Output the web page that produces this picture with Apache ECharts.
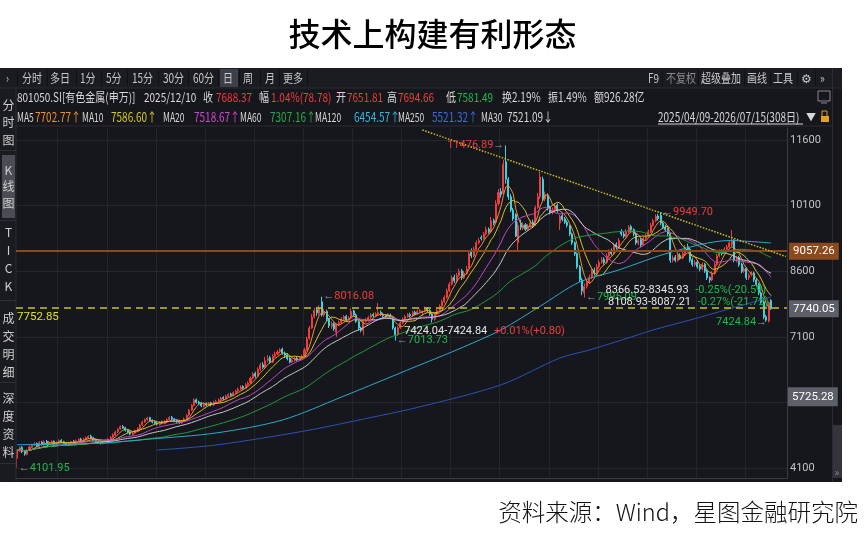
<!DOCTYPE html>
<html><head><meta charset="utf-8">
<script src="https://cdn.jsdelivr.net/npm/echarts/dist/echarts.min.js"></script>
<style>html,body{margin:0;padding:0;background:#fff}#c{width:865px;height:536px}</style>
</head><body><div id="c"></div>
<script>
const titleText = '技术上构建有利形态';
const sourceText = '资料来源：Wind，星图金融研究院';

// daily OHLC of 801050.SI, 308 sessions
const opens = [
4320,4490,4570,4480,4410,4510,4570,4630,4660,4590,
4690,4630,4710,4650,4680,4710,4640,4690,4730,4700,
4670,4630,4660,4710,4670,4730,4760,4720,4750,4780,
4830,4790,4740,4710,4690,4660,4700,4720,4750,4800,
4850,4930,4990,5050,5020,4970,4930,4870,4900,4950,
5000,5090,5150,5200,5250,5190,5160,5120,5090,5150,
5120,5160,5210,5260,5220,5190,5170,5130,5170,5220,
5310,5420,5530,5660,5610,5590,5510,5570,5530,5590,
5540,5600,5630,5650,5710,5680,5740,5790,5760,5820,
5860,5900,5960,5920,6000,6050,6150,6260,6200,6350,
6460,6400,6560,6620,6520,6650,6700,6760,6820,6720,
6690,6610,6520,6560,6610,6580,6620,6660,6800,7060,
7300,7560,7720,7640,7900,7600,7680,7500,7340,7400,
7200,7380,7420,7500,7570,7480,7530,7690,7600,7450,
7300,7240,7450,7480,7540,7610,7580,7620,7660,7620,
7590,7560,7600,7540,7300,7150,7300,7420,7500,7560,
7610,7580,7660,7620,7680,7651.81,7690,7750,7700,7620,
7500,7620,7700,7800,7900,8000,8150,8300,8460,8380,
8500,8610,8450,8550,8680,9050,8950,9100,9250,9370,
9350,9450,9560,9500,9760,9720,10150,10420,10380,11100,
10700,10300,10000,9900,9250,9700,9580,9660,9560,9620,
9720,9660,10060,10300,10700,10250,10340,10060,9950,10000,
10110,9700,9870,9800,9720,9640,9450,9250,9000,8700,
8400,8100,8250,8350,8450,8620,8550,8700,8810,8870,
8800,8950,9070,9000,9210,9150,9500,9450,9400,9500,
9620,9550,9450,9240,9320,9200,9350,9400,9500,9650,
9750,9860,9880,9700,9610,9560,9450,8850,8920,8850,
8960,8900,9000,9160,9100,8860,8750,8810,8710,8650,
8760,8600,8450,8400,8550,8750,8950,9060,9000,9100,
9150,9200,9300,8850,8910,8760,8600,8660,8450,8520,
8560,8400,8300,8100,7900,7560,7460,7930];
const closes = [
4500,4560,4470,4420,4500,4580,4620,4650,4600,4680,
4640,4700,4660,4690,4700,4650,4680,4720,4690,4660,
4640,4670,4700,4680,4720,4750,4730,4760,4790,4820,
4780,4730,4700,4690,4670,4700,4720,4750,4800,4860,
4920,4980,5040,5010,4960,4920,4880,4900,4950,5000,
5080,5150,5200,5240,5180,5150,5120,5100,5140,5130,
5160,5200,5250,5220,5180,5160,5140,5170,5220,5300,
5420,5530,5650,5600,5580,5520,5560,5540,5580,5540,
5600,5620,5650,5700,5680,5740,5780,5760,5820,5860,
5900,5950,5920,6000,6040,6150,6250,6200,6350,6450,
6400,6550,6600,6520,6650,6700,6750,6800,6720,6680,
6600,6520,6560,6600,6580,6620,6650,6800,7050,7300,
7550,7700,7650,7750,7600,7680,7500,7350,7400,7280,
7380,7420,7500,7560,7480,7530,7680,7600,7450,7300,
7250,7450,7480,7540,7600,7580,7620,7650,7620,7580,
7560,7600,7540,7300,7150,7300,7420,7500,7560,7600,
7580,7650,7620,7680,7700,7688.37,7740,7700,7620,7500,
7620,7700,7800,7900,8000,8150,8300,8450,8380,8500,
8600,8450,8550,8650,9000,8950,9100,9250,9300,9350,
9450,9550,9500,9750,9700,10150,10400,10350,11050,10700,
10300,10000,9800,9400,9650,9600,9650,9560,9620,9700,
9650,10050,10300,10750,10250,10350,10050,9950,10000,10100,
9980,9850,9780,9720,9650,9450,9250,9000,8700,8400,
8150,8250,8350,8450,8600,8550,8700,8800,8850,8800,
8950,9050,9000,9200,9150,9300,9450,9400,9500,9600,
9550,9450,9250,9300,9200,9350,9400,9500,9650,9750,
9850,9800,9700,9600,9550,9450,8850,8900,8850,8950,
8900,9000,9150,9100,8850,8750,8800,8700,8650,8750,
8600,8450,8400,8550,8750,8950,9050,9000,9100,9150,
9250,9280,8850,8900,8750,8600,8650,8450,8500,8550,
8400,8300,8100,7900,7550,7480,7880,7740.05];
const highs = [
4520,4590,4600,4500,4530,4610,4650,4690,4680,4710,
4720,4730,4740,4720,4730,4730,4710,4750,4760,4720,
4690,4700,4720,4740,4750,4780,4790,4790,4820,4850,
4860,4810,4760,4730,4710,4720,4750,4780,4830,4890,
4950,5010,5070,5080,5040,4990,4950,4930,4980,5030,
5110,5180,5230,5270,5270,5210,5180,5150,5170,5180,
5190,5230,5280,5290,5240,5210,5190,5200,5250,5330,
5450,5560,5690,5690,5640,5610,5590,5600,5610,5610,
5630,5660,5690,5730,5740,5770,5810,5820,5850,5890,
5940,5990,5990,6040,6080,6190,6290,6300,6400,6500,
6520,6640,6680,6660,6700,6760,6800,6840,6850,6760,
6720,6640,6600,6640,6650,6660,6690,6850,7100,7350,
7620,7760,7780,7820,8016.08,7740,7720,7530,7450,7430,
7410,7470,7550,7600,7600,7570,7750,7720,7630,7480,
7330,7480,7530,7580,7640,7650,7660,7870,7700,7650,
7620,7640,7630,7560,7330,7340,7460,7540,7600,7640,
7650,7690,7700,7720,7740,7694.66,7790,7780,7730,7640,
7660,7740,7840,7950,8050,8200,8350,8500,8520,8560,
8660,8650,8600,8720,9070,9120,9160,9300,9360,9420,
9500,9620,9600,9840,9800,10220,10480,10500,11150,11476.89,
10750,10360,10050,9920,9720,9780,9720,9700,9680,9760,
9780,10100,10390,10870,10760,10420,10380,10100,10060,10160,
10150,9890,9920,9840,9760,9660,9480,9280,9030,8740,
8450,8320,8420,8520,8660,8680,8760,8860,8920,8920,
9010,9100,9120,9250,9260,9360,9560,9500,9560,9650,
9660,9580,9480,9350,9360,9400,9450,9550,9700,9800,
9900,9910,9949.70,9740,9660,9600,9470,8960,8970,9000,
9010,9050,9200,9230,9130,8900,8850,8850,8750,8800,
8790,8640,8480,8600,8800,9000,9100,9100,9150,9200,
9300,9540,9330,8950,8950,8790,8700,8690,8550,8600,
8590,8440,8330,8130,7930,7600,7910,7960];
const lows = [
4101.95,4460,4440,4380,4390,4490,4550,4600,4570,4570,
4610,4610,4640,4630,4660,4620,4620,4670,4670,4640,
4610,4610,4640,4660,4650,4710,4700,4700,4730,4760,
4760,4710,4670,4660,4640,4640,4680,4700,4730,4780,
4830,4900,4970,4990,4930,4890,4850,4840,4880,4930,
4980,5060,5130,5180,5150,5120,5090,5070,5070,5100,
5100,5140,5190,5190,5150,5130,5110,5110,5150,5200,
5290,5400,5510,5570,5540,5490,5480,5510,5510,5510,
5520,5580,5600,5630,5650,5660,5720,5730,5740,5800,
5840,5880,5890,5900,5970,6030,6130,6160,6180,6320,
6360,6380,6520,6480,6500,6620,6680,6720,6690,6620,
6560,6490,6500,6530,6540,6550,6590,6640,6780,7030,
7280,7520,7580,7600,7560,7560,7460,7300,7280,7230,
7100,7340,7390,7470,7440,7450,7500,7560,7420,7250,
7200,7130,7420,7450,7510,7540,7550,7590,7580,7540,
7520,7530,7500,7260,7013.73,7120,7280,7390,7470,7530,
7540,7550,7590,7600,7650,7581.49,7660,7660,7580,7424.04,
7470,7590,7670,7770,7870,7970,8120,8270,8330,8340,
8470,8400,8420,8520,8660,8900,8920,9070,9210,9300,
9320,9420,9460,9470,9650,9700,10100,10280,10350,10600,
10230,9950,9750,9380,9040,9540,9540,9520,9530,9590,
9600,9640,10030,10250,10200,10200,9990,9900,9900,9960,
9940,9540,9740,9680,9600,9400,9200,8950,8650,8350,
8050,7995.09,8200,8310,8420,8500,8520,8660,8770,8750,
8770,8910,8960,8970,9100,9120,9400,9350,9370,9460,
9500,9400,9200,9190,9150,9170,9310,9370,9470,9620,
9720,9760,9650,9560,9500,9400,8790,8800,8800,8820,
8860,8870,8970,9060,8800,8700,8710,8660,8600,8620,
8560,8400,8330,8370,8520,8720,8920,8960,8970,9070,
9120,9150,8800,8800,8700,8550,8560,8400,8400,8480,
8350,8250,8050,7850,7500,7440,7424.84,7720];

// long moving averages (index, value)
const ma120Points = [[0,4630],[34,4670],[54,4760],[81,4900],[108,5196],[132,5720],[162,6410],[179,6800],[197,7255],[213,7800],[229,8352],[245,8627],[266,9030],[290,9300],[307,9244]];
const ma250Points = [[57,4510],[81,4625],[117,4945],[145,5265],[162,5470],[197,6000],[221,6614],[233,6797],[247,7040],[259,7255],[274,7483],[307,8010]];

const yGridTicks = [4100,5600,7100,8600,10100,11600];
const yLabelTicks = [4100,7100,8600,10100,11600];
const yMin = 3870, yMax = 11874;

const levelLine = 9057.26;
const supportLine = 7752.85;
const lastPrice = 7740.05;
const markerPrice = 5725.28;
const trendStart = [165, 11829];
const trendEnd = [313, 8936];

const extremeMarks = [
  {i:199, v:11476.89, side:'left', up:true},
  {i:124, v:8016.08, side:'right', up:true},
  {i:154, v:7013.73, side:'right', up:false},
  {i:0, v:4101.95, side:'right', up:false},
  {i:231, v:7995.09, side:'right', up:false},
  {i:262, v:9949.70, side:'right', up:true},
  {i:306, v:7424.84, side:'left', up:false}
];
const rangeNotes = [
  {i:157, v:7232, span:'7424.04-7424.84', change:'+0.01%(+0.80)', up:true},
  {i:239, v:8169, span:'8366.52-8345.93', change:'-0.25%(-20.59)', up:false},
  {i:240, v:7895, span:'8108.93-8087.21', change:'-0.27%(-21.72)', up:false}
];

const maDefs = [
  {name:'MA5', n:5, color:'#ec8f2a'},
  {name:'MA10', n:10, color:'#d4bf2c'},
  {name:'MA20', n:20, color:'#c445c8'},
  {name:'MA30', n:30, color:'#c8c8c8'},
  {name:'MA60', n:60, color:'#239a3e'}
];

// categories: trading-day slots of the window (labels hidden)
const totalSlots = 314;
const categories = [];
(function(){ let d = new Date(Date.UTC(2025,3,9)); while (categories.length < totalSlots) { const w = d.getUTCDay(); if (w !== 0 && w !== 6) categories.push(d.toISOString().slice(0,10)); d = new Date(d.getTime() + 86400000); } })();

function movingAvg(n){
  return closes.map((_, i) => { const s = Math.max(0, i - n + 1); let sum = 0; for (let j = s; j <= i; j++) sum += closes[j]; return +(sum / (i - s + 1)).toFixed(2); });
}
function sparse(points){ const a = new Array(closes.length).fill(null); points.forEach(p => { a[p[0]] = p[1]; }); return a; }

const RED = '#f03c3c', GREEN = '#1fb84c', CYAN = '#38d4e6', WHITE = '#d6d6d6', GRAY = '#9a9a9a';
const UI_FONT = '"Noto Sans CJK SC", "Noto Sans", sans-serif';

function T(x, y, text, fill, size, o){
  o = o || {};
  return {type:'text', x:x, y:y, scaleX: o.sx === undefined ? 0.8 : o.sx, silent:true, z:10,
    style:{text:text, fill:fill, fontSize:size, fontFamily:o.ff||UI_FONT, fontWeight:o.w||'normal',
      textAlign:o.align||'left', align:o.align||'left', textVerticalAlign:'middle', verticalAlign:'middle'}};
}
function L(x1,y1,x2,y2,c,w){ return {type:'line', silent:true, z:5, shape:{x1,y1,x2,y2}, style:{stroke:c, lineWidth:w||1}}; }
function R(x,y,w,h,c,z){ return {type:'rect', silent:true, z:z===undefined?1:z, shape:{x,y,width:w,height:h}, style:{fill:c}}; }

const ui = [];
ui.push(R(0,68,842,414,'#16171c',0));
ui.push(R(0,68,842,20,'#1b1c21',1));
ui.push(R(0,88,16,394,'#1a1b20',1));
ui.push(L(0,88,842,88,'#2a2b31'));
ui.push(L(16,126,832,126,'#2a2b31'));
ui.push(L(16,88,16,482,'#2a2b31'));
ui.push(L(832.5,68,832.5,482,'#2c2d33'));
ui.push(R(833,425,9,53,'#34353c',2));
ui.push(T(837,472,'»','#8a8a8a',10,{sx:1,align:'center'}));
// toolbar
ui.push(R(220,69,18,18,'#3d3f49',2));
[[6,'›'],[22,'分时'],[50,'多日'],[80,'1分'],[106,'5分'],[132,'15分'],[163,'30分'],[193,'60分'],[223,'日'],[243,'周'],[265,'月'],[283,'更多'],
 [648,'F9'],[701,'超级叠加'],[747,'画线'],[773,'工具'],[820,'»']].forEach(t => ui.push(T(t[0],78,t[1],'#c8c8c8',12.5)));
ui.push(T(666,78,'不复权','#8c8c8c',12.5));
ui.push(T(806,78,'⚙','#c8c8c8',12,{sx:1,align:'center'}));
[17,47,76,101,127,158,188,218,239,260,279,307,662,698,744,770,797,815].forEach(x => ui.push(L(x+0.5,70,x+0.5,86,'#101115')));
// info row
[[17,'801050.SI[有色金属(申万)]',WHITE],[144,'2025/12/10',WHITE],[203,'收',WHITE],[216,'7688.37',RED],[259,'幅',WHITE],[271,'1.04%(78.78)',RED],
 [336,'开',WHITE],[347,'7651.81',RED],[387,'高',WHITE],[398,'7694.66',RED],[446,'低',WHITE],[457,'7581.49',GREEN],[502,'换2.19%',WHITE],[548,'振1.49%',WHITE],[594,'额926.28亿',WHITE]]
 .forEach(t => ui.push(T(t[0],97,t[1],t[2],12.5)));
ui.push({type:'rect', silent:true, z:6, shape:{x:818,y:91,width:12,height:10}, style:{fill:'none', stroke:'#8a8a8a', lineWidth:1}});
ui.push(L(821,103,827,103,'#8a8a8a'));
// MA row: names narrower, values as read
[[17,'MA5'],[82,'MA10'],[163,'MA20'],[240,'MA60'],[315,'MA120'],[398,'MA250'],[481,'MA30']]
 .forEach(t => ui.push(T(t[0],117,t[1],WHITE,12.5,{sx:0.68})));
[[35,'7702.77↑','#ee8e2c'],[111,'7586.60↑','#d6c62a'],[194,'7518.67↑','#cc4ad0'],[270,'7307.16↑','#2aa848'],
 [354,'6454.57↑','#35b8e0'],[432,'5521.32↑','#3c6ae0'],[507,'7521.09↓',WHITE],[658,'2025/04/09-2026/07/15(308日)',WHITE]]
 .forEach(t => ui.push(T(t[0],117,t[1],t[2],12.5)));
ui.push(L(658,124,803,124,WHITE));
ui.push(T(806,117,'▼',WHITE,10,{sx:1}));
ui.push(R(821,116,8,6,'#e0a020',6));
ui.push({type:'rect', silent:true, z:6, shape:{x:822,y:111,width:5,height:6}, style:{fill:'none', stroke:'#e0a020', lineWidth:1}});
// sidebar
ui.push(R(2,155,13,63,'#4a4c56',2));
[[105,'分'],[122,'时'],[140,'图'],[170,'K'],[186,'线'],[203,'图'],[232,'T'],[250,'I'],[268,'C'],[286,'K'],[318,'成'],[336,'交'],[354,'明'],[372,'细'],[398,'深'],[416,'度'],[434,'资'],[452,'料']]
 .forEach(t => ui.push(T(8.5,t[0],t[1],'#cfcfcf',12,{sx:1,align:'center'})));
[150,220,300,382,463].forEach(y => ui.push(L(0,y+0.5,16,y+0.5,'#2e2f36')));
// source
ui.push(T(858,512,sourceText,'#111',23.5,{sx:1,align:'right',w:300}));

const labelRich = {
  r:{color:RED, fontSize:11, fontFamily:'Roboto'},
  g:{color:GREEN, fontSize:11, fontFamily:'Roboto'},
  w:{color:'#e6e6e6', fontSize:11, fontFamily:'Roboto'},
  a:{color:GRAY, fontSize:11, fontFamily:'Roboto'}
};

const markPoints = extremeMarks.map(m => {
  const tag = m.up ? 'r' : 'g';
  const txt = m.side === 'left' ? `{${tag}|${m.v.toFixed(2)}}{a|→}` : `{a|←}{${tag}|${m.v.toFixed(2)}}`;
  return {coord:[m.i, m.v], label:{show:true, position:m.side, distance:1, formatter:txt, rich:labelRich}};
}).concat(rangeNotes.map(n => ({coord:[n.i, n.v], label:{show:true, position:'right', distance:1,
  formatter:`{w|${n.span}}  {${n.up?'r':'g'}|${n.change}}`, rich:labelRich}})));

const hidden = {color:'rgba(0,0,0,0)', width:0};
const series = [{
  type:'candlestick', name:'K', z:2,
  data: opens.map((o, i) => [o, closes[i], lows[i], highs[i]]),
  barWidth:'62%',
  itemStyle:{color:RED, color0:CYAN, borderColor:RED, borderColor0:CYAN, borderWidth:1},
  markLine:{symbol:['none','none'], silent:true, animation:false, precision:2,
    data:[
      {yAxis:levelLine, lineStyle:{color:'#8c4a1c', width:2, type:'solid'},
        label:{show:true, position:'end', distance:2, formatter:levelLine.toFixed(2), color:'#fff', backgroundColor:'#8c4a1c', padding:[3,4,2,4], fontSize:11.5, fontFamily:'Roboto'}},
      {yAxis:supportLine, lineStyle:{color:'#c9c21e', width:1.5, type:[7,5]},
        label:{show:true, position:'insideStartBottom', distance:[1,3], formatter:supportLine.toFixed(2), color:'#e4e020', fontSize:11.5, fontFamily:'Roboto'}},
      {yAxis:lastPrice, lineStyle:hidden,
        label:{show:true, position:'end', distance:2, formatter:lastPrice.toFixed(2), color:'#fff', backgroundColor:'#5d5f69', padding:[3,4,2,4], fontSize:11.5, fontFamily:'Roboto'}},
      {yAxis:markerPrice, lineStyle:hidden,
        label:{show:true, position:'end', distance:1, formatter:markerPrice.toFixed(2), color:'#fff', backgroundColor:'#5d5f69', padding:[4,4,3,4], fontSize:11.5, fontFamily:'Roboto'}},
      [{coord:trendStart, lineStyle:{color:'#c9c21e', width:1.5, type:'dotted'}, label:{show:false}},
       {coord:trendEnd, lineStyle:{color:'#c9c21e', width:1.5, type:'dotted'}, label:{show:false}}]
    ]},
  markPoint:{symbol:'rect', symbolSize:1, itemStyle:{color:'rgba(0,0,0,0)'}, silent:true, animation:false, data:markPoints}
}];
maDefs.forEach(d => series.push({type:'line', name:d.name, data:movingAvg(d.n), symbol:'none', z:3, silent:true,
  lineStyle:{width:1, color:d.color}}));
series.push({type:'line', name:'MA120', data:sparse(ma120Points), connectNulls:true, smooth:0.3, symbol:'none', z:3, silent:true, lineStyle:{width:1, color:'#2ba8cc'}});
series.push({type:'line', name:'MA250', data:sparse(ma250Points), connectNulls:true, smooth:0.3, symbol:'none', z:3, silent:true, lineStyle:{width:1, color:'#2d4fb8'}});

const chart = echarts.init(document.getElementById('c'), null, {renderer:'canvas'});
chart.setOption({
  animation:false,
  backgroundColor:'#ffffff',
  title:{text:titleText, left:'center', top:13, textStyle:{fontSize:32, fontWeight:500, color:'#000', fontFamily:'"Noto Sans CJK SC"'}},
  grid:{left:16, right:78, top:128, bottom:58, containLabel:false},
  xAxis:{type:'category', data:categories, boundaryGap:true,
    axisLine:{show:true, lineStyle:{color:'#3a3c42'}}, axisTick:{show:false}, axisLabel:{show:false},
    splitLine:{show:true, interval:(i) => i % 20 === 17, lineStyle:{color:'#23252b', width:1}}},
  yAxis:{type:'value', position:'right', min:yMin, max:yMax, scale:true,
    axisLine:{show:true, lineStyle:{color:'#3a3c42'}},
    axisTick:{show:false, customValues:yGridTicks},
    axisLabel:{customValues:yLabelTicks, formatter:(v) => String(v), color:'#c4c4c4', fontSize:11, fontFamily:'Roboto', margin:3},
    splitLine:{show:true, lineStyle:{color:'#25272d', width:1}}},
  graphic:ui,
  series:series
});
</script></body></html>
